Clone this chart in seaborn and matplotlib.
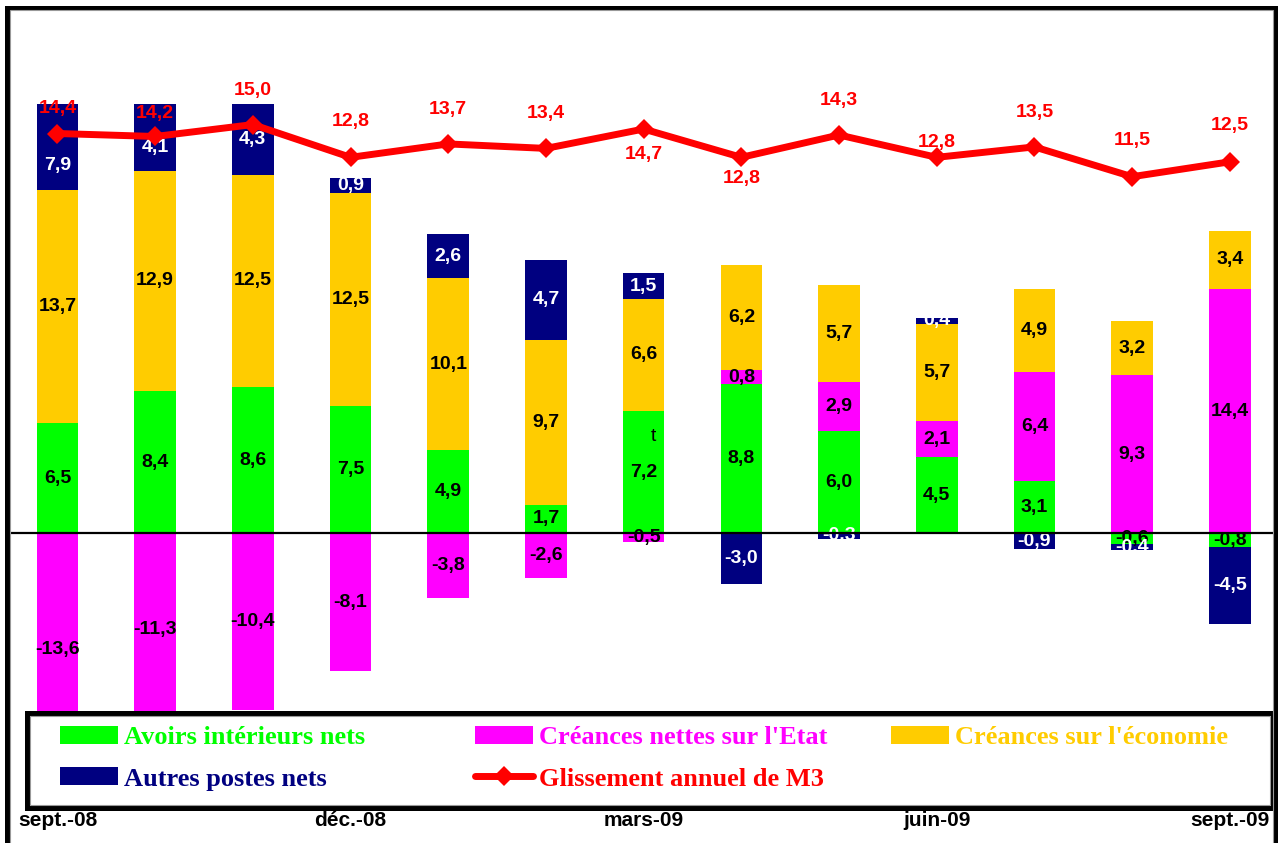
import numpy as np
import matplotlib
matplotlib.use('Agg')
import matplotlib.pyplot as plt
import matplotlib.transforms as mtransforms
from matplotlib.patches import Patch, Rectangle
from matplotlib.lines import Line2D
import seaborn as sns

# --- data ---
months = ['sept.-08', 'oct.-08', 'nov.-08', 'déc.-08', 'janv.-09', 'févr.-09', 'mars-09',
          'avr.-09', 'mai-09', 'juin-09', 'juil.-09', 'août-09', 'sept.-09']
shown_months = ['sept.-08', 'déc.-08', 'mars-09', 'juin-09', 'sept.-09']

avoirs = [6.5, 8.4, 8.6, 7.5, 4.9, 1.7, 7.2, 8.8, 6.0, 4.5, 3.1, -0.6, -0.8]
creances_etat = [-13.6, -11.3, -10.4, -8.1, -3.8, -2.6, -0.5, 0.8, 2.9, 2.1, 6.4, 9.3, 14.4]
creances_eco = [13.7, 12.9, 12.5, 12.5, 10.1, 9.7, 6.6, 6.2, 5.7, 5.7, 4.9, 3.2, 3.4]
autres = [7.9, 4.1, 4.3, 0.9, 2.6, 4.7, 1.5, -3.0, -0.3, 0.4, -0.9, -0.4, -4.5]
m3 = [14.4, 14.2, 15.0, 12.8, 13.7, 13.4, 14.7, 12.8, 14.3, 12.8, 13.5, 11.5, 12.5]

series_names = ['Avoirs intérieurs nets', "Créances nettes sur l'Etat",
                "Créances sur l'économie", 'Autres postes nets']
line_name = 'Glissement annuel de M3'

# --- style ---
colors = ['#00FF00', '#FF00FF', '#FFCC00', '#000080']
label_colors = ['black', 'black', 'black', 'white']
red = '#FF0000'
# vertical offset (points) of the M3 labels from their marker
m3_label_dy = [18, 16.5, 24.5, 26, 25, 25, -18, -15, 25, 11, 25, 26, 26]
# a couple of bar labels sit lower than the clipped segment centre
label_nudge = {(3, 0): -1.1, (3, 1): -0.6}

W, H = 1278, 843
sns.set_style('white')
plt.rcParams['font.family'] = ['Liberation Sans', 'DejaVu Sans']

fig = plt.figure(figsize=(W / 100, H / 100), dpi=100)
ax = fig.add_axes([8.65 / W, 35 / H, (1275 - 8.65) / W, 704 / H])
ymin, ymax = -16.15, 25.26
ax.set_xlim(-0.5, 12.463)
ax.set_ylim(ymin, ymax)

x = np.arange(len(months))
pos_base = np.zeros(len(months))
neg_base = np.zeros(len(months))
for s, vals in enumerate([avoirs, creances_etat, creances_eco, autres]):
    vals = np.array(vals)
    bottoms = np.where(vals >= 0, pos_base, neg_base)
    ax.bar(x, vals, bottom=bottoms, width=0.426, color=colors[s], linewidth=0, zorder=2)
    for i, v in enumerate(vals):
        lo, hi = sorted([bottoms[i], bottoms[i] + v])
        lo, hi = max(lo, ymin), min(hi, ymax)
        yc = (lo + hi) / 2 + label_nudge.get((s, i), 0)
        ax.text(x[i], yc, f'{v:.1f}'.replace('.', ','), ha='center', va='center',
                fontsize=14, fontweight='bold', color=label_colors[s], zorder=3)
    pos_base += np.where(vals >= 0, vals, 0)
    neg_base += np.where(vals < 0, vals, 0)

# stray character present in the source chart
ax.text(6.1, 5.7, 't', ha='center', va='center', fontsize=14, color='black', zorder=3)

# category axis drawn at zero
for side in ['top', 'right', 'left']:
    ax.spines[side].set_visible(False)
ax.spines['bottom'].set_position(('data', 0))
ax.spines['bottom'].set_linewidth(1.6)
ax.spines['bottom'].set_color('black')
ax.spines['bottom'].set_zorder(4)
ax.set_xticks(np.arange(0.5, 12, 1))
ax.set_xticklabels([])
ax.tick_params(axis='x', direction='out', length=5, width=1.5, color='black')
ax.set_yticks([])
ax.grid(False)

trans = mtransforms.blended_transform_factory(ax.transData, fig.transFigure)
for m in shown_months:
    ax.text(months.index(m), (H - 821) / H, m, transform=trans, ha='center', va='center',
            fontsize=15, fontweight='bold', color='black')

# M3 line on its own scale
ax2 = ax.twinx()
ax2.set_ylim(-30.87, 16.38)
sns.lineplot(x=x, y=m3, ax=ax2, color=red, linewidth=5, marker='D', markersize=10,
             markeredgewidth=0, zorder=5)
for i, v in enumerate(m3):
    ax2.annotate(f'{v:.1f}'.replace('.', ','), (x[i], v), xytext=(0, m3_label_dy[i]),
                 textcoords='offset points', ha='center', va='center',
                 fontsize=14, fontweight='bold', color=red, zorder=6)
ax2.set_axis_off()

# outer frame
fig.patches.append(Rectangle((6.5 / W, -0.05), (1276 - 6.5) / W, 1.05 - 7.5 / H,
                             transform=fig.transFigure, fill=False, edgecolor='black',
                             linewidth=3.6, zorder=10))
fig.patches.append(Rectangle((9.5 / W, -0.05), (1273 - 9.5) / W, 1.05 - 10.5 / H,
                             transform=fig.transFigure, fill=False, edgecolor='#999999',
                             linewidth=0.8, zorder=10))

# legend box
fig.patches.append(Rectangle((27 / W, 1 - 808 / H), (1273 - 27) / W, (808 - 712.7) / H,
                             transform=fig.transFigure, facecolor='white', edgecolor='black',
                             linewidth=3.6, zorder=8))
fig.patches.append(Rectangle((30 / W, 1 - 805 / H), (1270 - 30) / W, (805 - 715.7) / H,
                             transform=fig.transFigure, fill=False, edgecolor='#999999',
                             linewidth=0.8, zorder=8))

leg_font = {'family': 'Liberation Serif', 'weight': 'bold', 'size': 19}
bar_handles = [Patch(facecolor=c, edgecolor='none') for c in colors]
line_handle = Line2D([], [], color=red, linewidth=5, marker='D', markersize=10,
                     markeredgewidth=0)
columns = [
    (60, [bar_handles[0], bar_handles[3]], [series_names[0], series_names[3]], [colors[0], colors[3]]),
    (475, [bar_handles[1], line_handle], [series_names[1], line_name], [colors[1], red]),
    (891, [bar_handles[2]], [series_names[2]], [colors[2]]),
]
for xpos, handles, labels, tcols in columns:
    leg = fig.legend(handles, labels, loc='upper left', bbox_to_anchor=(xpos / W, 1 - 726 / H),
                     bbox_transform=fig.transFigure, frameon=False, prop=leg_font,
                     borderpad=0, borderaxespad=0, handlelength=2.2, handleheight=0.68,
                     handletextpad=0.23, labelspacing=0.68)
    leg.set_zorder(9)
    for t, c in zip(leg.get_texts(), tcols):
        t.set_color(c)

fig.savefig('out.png', dpi=100)
